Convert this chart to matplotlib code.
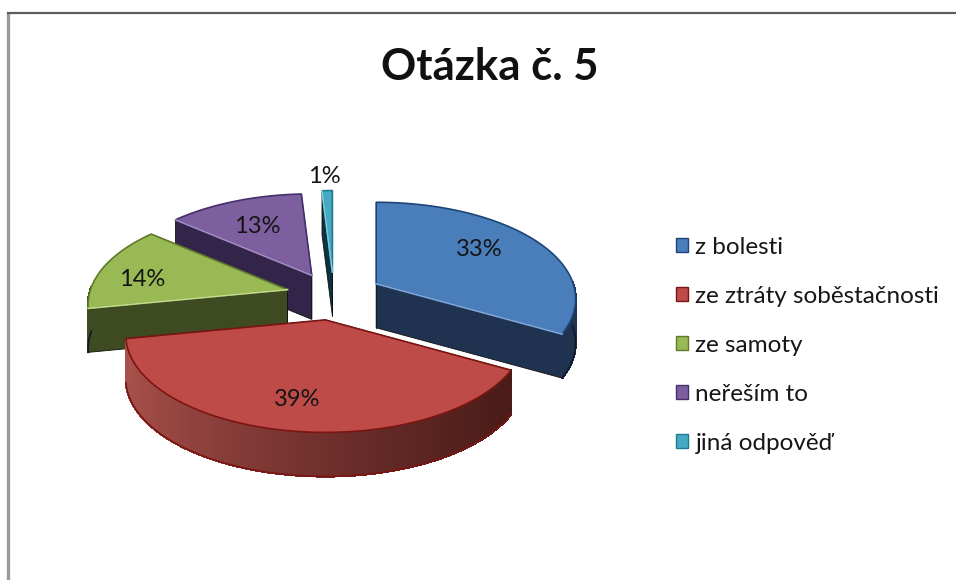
import numpy as np
import matplotlib
matplotlib.use("Agg")
import matplotlib.pyplot as plt
from matplotlib.patches import Polygon, Patch
from matplotlib.colors import to_rgb

categories = ["z bolesti", "ze ztráty soběstačnosti", "ze samoty", "neřeším to", "jiná odpověď"]
values = [33, 39, 14, 13, 1]

top_colors = ["#4A7EBB", "#BE4B48", "#98B954", "#7D5FA0", "#46AAC5"]
edge_colors = ["#1D4477", "#7A1512", "#5F7A2A", "#44306B", "#1E7A90"]
bevel_colors = ["#7FA8DC", "#C9615C", "#C4DC8A", "#A58CC4", "#7CCADC"]
side_left = ["#1F3350", "#A9504B", "#3D4A22", "#33254A", "#0A3440"]
side_right = ["#1F3350", "#481A17", "#3D4A22", "#33254A", "#0A3440"]
explode = [49, 56, 48, 49, 51]
draw_order = [4, 3, 0, 2, 1]
label_pos_r = [0.65, 0.70, 0.78, 0.68, 1.21]
label_nudge_x = [2, -3, -2, -2, -2]
label_nudge_y = [-5, 2, 8, 2, 3]

CX, CY, W, H, P, DEPTH, EY = 334, 295, 197, 97, 0.16, 44, 0.45

plt.rcParams["font.family"] = ["Lato", "DejaVu Sans"]
fig = plt.figure(figsize=(9.56, 5.80), dpi=100)
ax = fig.add_axes([0, 0, 1, 1])
ax.set_xlim(0, 956)
ax.set_ylim(580, 0)
ax.axis("off")

ax.plot([8.5, 8.5], [580, 12], color="#9A9A9A", lw=2.4, solid_capstyle="butt")
ax.plot([7, 956], [12.5, 12.5], color="#5C5C5C", lw=1.6, solid_capstyle="butt")


def project(theta, ax0, ay0):
    c = np.cos(theta)
    s = np.sin(theta)
    scale = 1 - P * c
    return ax0 + W * s * scale, ay0 - H * c * scale


total = sum(values)
bounds = np.cumsum([0] + values) / total * 2 * np.pi
geo = []
for i in range(len(values)):
    a0, a1 = bounds[i], bounds[i + 1]
    mid = (a0 + a1) / 2
    geo.append((a0, a1, mid, CX + explode[i] * np.sin(mid), CY - explode[i] * EY * np.cos(mid)))

for i in draw_order:
    a0, a1, mid, ox, oy = geo[i]
    th = np.linspace(a0, a1, 120)
    xs, ys = project(th, ox, oy)
    left, right = np.array(to_rgb(side_left[i])), np.array(to_rgb(side_right[i]))

    # cut faces: the one whose outer corner lies nearer the viewer goes last
    ends = sorted((0, -1), key=lambda k: ys[k])
    for k in ends:
        q = [(ox, oy), (xs[k], ys[k]), (xs[k], ys[k] + DEPTH), (ox, oy + DEPTH)]
        ax.add_patch(Polygon(q, closed=True, fc=side_left[i] if i != 1 else side_right[i],
                             ec="#101010", lw=0.6, zorder=2))

    # outer wall, front part only, shaded along x
    idx = np.where(np.cos(th) < 0.03)[0]
    for a, b in zip(idx[:-1], idx[1:]):
        if b != a + 1:
            continue
        f = np.clip((0.5 * (xs[a] + xs[b]) - (ox - W)) / (2 * W), 0, 1)
        col = left + (right - left) * f ** 0.75
        q = [(xs[a], ys[a]), (xs[b], ys[b]), (xs[b], ys[b] + DEPTH), (xs[a], ys[a] + DEPTH)]
        ax.add_patch(Polygon(q, closed=True, fc=col, ec=col, lw=1.0, antialiased=False, zorder=2))
    if len(idx):
        ax.plot(xs[idx], ys[idx] + DEPTH, color=edge_colors[i] if i == 1 else "#101828", lw=1.2, zorder=2)

    # top face
    pts = np.column_stack([np.r_[ox, xs], np.r_[oy, ys]])
    ax.add_patch(Polygon(pts, closed=True, fc=top_colors[i], ec=edge_colors[i], lw=1.2,
                         joinstyle="round", zorder=2))
    if i != 1:
        k = ends[-1]
        ax.plot([ox, xs[k]], [oy, ys[k]], color=bevel_colors[i], lw=1.2, zorder=2)

    # percentage label
    lx, ly = project(mid, ox, oy)
    px = ox + (lx - ox) * label_pos_r[i] + label_nudge_x[i]
    py = oy + (ly - oy) * label_pos_r[i] + label_nudge_y[i]
    ax.text(px, py, f"{values[i]}%", ha="center", va="center", fontsize=17,
            color="#141414", zorder=3)

ax.text(490, 67, "Otázka č. 5", ha="center", va="center", fontsize=31.5, fontweight="bold", color="#111111")

handles = [Patch(fc=c, ec=e, lw=1) for c, e in zip(top_colors, edge_colors)]
leg = ax.legend(handles, categories, loc="upper left", bbox_to_anchor=(676 / 956, 1 - 237 / 580),
                frameon=False, fontsize=17.5, labelspacing=1.15, handlelength=0.5, handleheight=0.5,
                handletextpad=0.3, borderpad=0, borderaxespad=0, labelcolor="#161616")

fig.savefig("out.png", dpi=100)
